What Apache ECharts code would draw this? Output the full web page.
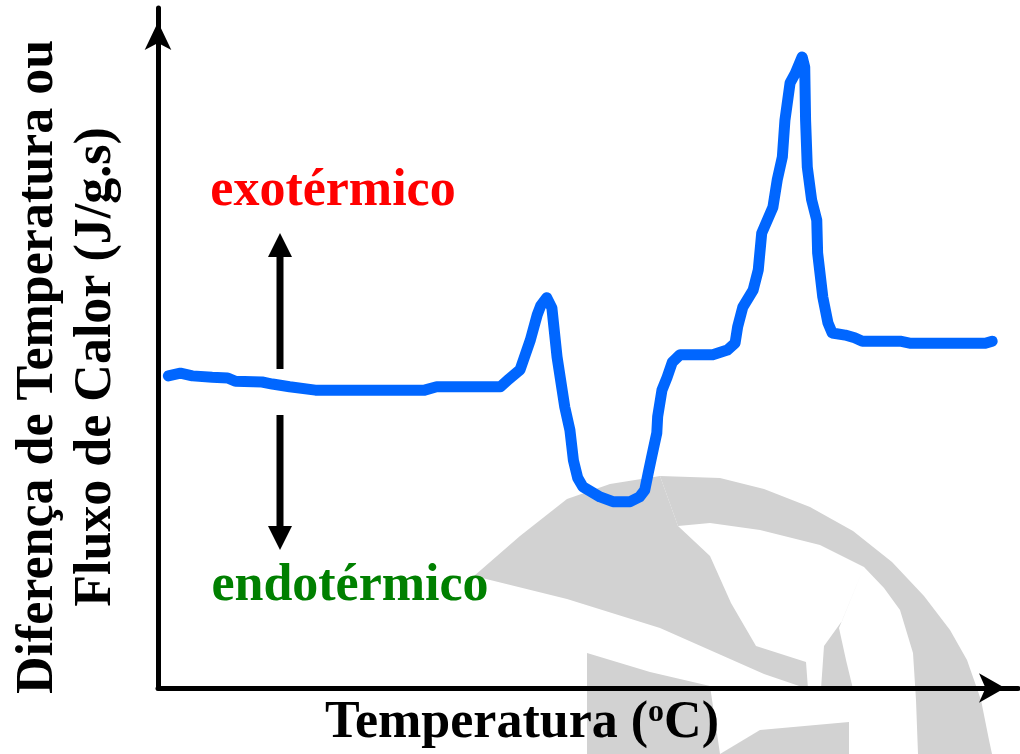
<!DOCTYPE html>
<html>
<head>
<meta charset="utf-8">
<script src="https://cdn.jsdelivr.net/npm/echarts@6/dist/echarts.min.js"></script>
<style>
  html, body { margin: 0; padding: 0; background: #fff; }
  #chart { width: 1020px; height: 754px; }
</style>
</head>
<body>
<div id="chart"></div>
<script>
// curva DSC/DTA (unidades arbitrárias 0-100)
const temperatura = [1.2, 2.6, 4.0, 6.3, 8.1, 9.0, 12.1, 13.3, 15.3, 18.3, 31.0, 32.4, 39.8, 40.7, 42.1, 43.3, 44.1, 44.5, 45.2, 45.8, 46.4, 47.3, 47.9, 48.3, 48.8, 49.4, 51.4, 52.9, 54.9, 56.0, 56.6, 57.0, 57.4, 58.0, 58.1, 58.6, 59.2, 59.8, 60.7, 64.5, 66.2, 67.1, 67.4, 68.0, 69.2, 69.8, 70.2, 71.5, 72.0, 72.6, 72.9, 73.5, 74.1, 74.9, 75.2, 75.3, 75.5, 76.0, 76.6, 76.7, 77.3, 77.9, 78.4, 79.9, 81.0, 81.9, 86.3, 87.4, 96.2, 97.0]
const fluxo = [45.9, 46.3, 45.9, 45.7, 45.6, 45.1, 45.0, 44.7, 44.3, 43.8, 43.8, 44.3, 44.3, 45.3, 46.8, 51.2, 54.9, 56.2, 57.4, 55.9, 48.7, 41.3, 37.9, 33.5, 30.9, 29.6, 28.1, 27.4, 27.4, 28.1, 29.1, 31.6, 34.0, 37.5, 39.9, 43.8, 45.7, 47.9, 49.0, 49.0, 49.7, 50.7, 53.1, 56.0, 58.5, 61.5, 66.9, 70.7, 74.7, 78.1, 83.5, 89.0, 90.4, 92.8, 91.3, 83.5, 76.6, 71.8, 68.8, 64.0, 57.5, 53.7, 52.2, 51.9, 51.5, 51.0, 51.0, 50.7, 50.7, 51.0]

const tituloY = 'Diferença de Temperatura ou\nFluxo de Calor (J/g.s)'
const rotuloExo = 'exotérmico'
const rotuloEndo = 'endotérmico'

const fonte = 'bold 52px "Liberation Serif", "Times New Roman", serif'
const cinza = '#d2d2d2'

// marca d'água (logo cinza ao fundo) - formas aproximadas
const marcaDagua = [
  [[660,476],[720,478],[764,489],[810,507],[853,531],[892,562],[924,596],[950,630],[967,660],[981,700],[989,740],[992,754],[918,754],[916,700],[913,653],[900,610],[884,588],[864,567],[820,545],[760,530],[710,523],[678,526]],
  [[474,576],[520,536],[567,499],[610,484],[660,476],[678,526],[710,556],[731,603],[756,646],[806,662],[808,689],[764,674],[660,628],[567,599]],
  [[864,567],[842,621],[824,646],[821,689],[853,689],[846,660],[839,628]],
  [[587,653],[650,672],[710,686],[720,754],[587,754]],
  [[720,754],[760,730],[849,722],[849,754]]
]

const pontos = temperatura.map((t, i) => [t, fluxo[i]])

const chart = echarts.init(document.getElementById('chart'))

const seta = (x, y1, y2) => {
  // seta vertical preta: haste + ponta
  const dir = y2 < y1 ? 1 : -1
  return [
    { type: 'line', z: 10, shape: { x1: x, y1: y1, x2: x, y2: y2 + dir * 22 }, style: { stroke: '#000', lineWidth: 7 } },
    { type: 'polygon', z: 10, shape: { points: [[x, y2], [x - 12, y2 + dir * 24], [x + 12, y2 + dir * 24]] }, style: { fill: '#000' } }
  ]
}

const option = {
  animation: false,
  backgroundColor: '#fff',
  grid: { left: 158, right: 2, top: 8, bottom: 66 },
  xAxis: {
    type: 'value',
    min: 0,
    max: 100,
    splitLine: { show: false },
    axisTick: { show: false },
    axisLabel: { show: false },
    axisLine: {
      lineStyle: { color: '#000', width: 5 },
      symbol: ['none', 'arrow'],
      symbolSize: [22, 26],
      symbolOffset: [0, -13]
    }
  },
  yAxis: {
    type: 'value',
    min: 0,
    max: 100,
    splitLine: { show: false },
    axisTick: { show: false },
    axisLabel: { show: false },
    axisLine: {
      onZero: false,
      lineStyle: { color: '#000', width: 5 },
      symbol: ['none', 'arrow'],
      symbolSize: [20, 28],
      symbolOffset: [0, -14]
    }
  },
  graphic: [
    ...marcaDagua.map(p => ({ type: 'polygon', z: -1, shape: { points: p }, style: { fill: cinza } })),
    ...seta(280, 369, 233),
    ...seta(280, 415, 550),
    {
      type: 'text', z: 10, x: 333, y: 192,
      style: { text: rotuloExo, font: fonte, fill: '#ff0000', align: 'center', verticalAlign: 'middle' }
    },
    {
      type: 'text', z: 10, x: 350, y: 587,
      style: { text: rotuloEndo, font: fonte, fill: '#008000', align: 'center', verticalAlign: 'middle' }
    },
    {
      type: 'text', z: 10, x: 522, y: 724,
      style: {
        text: 'Temperatura ({sup|o}C)',
        font: fonte, fill: '#000', align: 'center', verticalAlign: 'middle',
        rich: { sup: { font: 'bold 32px "Liberation Serif", serif', fill: '#000', padding: [0, 0, 22, 0] } }
      }
    },
    {
      type: 'text', z: 10, x: 68, y: 367, rotation: Math.PI / 2,
      style: { text: tituloY, font: fonte, fill: '#000', align: 'center', verticalAlign: 'middle', lineHeight: 58 }
    }
  ],
  series: [
    {
      type: 'line',
      data: pontos,
      showSymbol: false,
      smooth: false,
      z: 5,
      lineStyle: { color: '#0066ff', width: 11, cap: 'round', join: 'round' }
    }
  ]
}

chart.setOption(option)
</script>
</body>
</html>
